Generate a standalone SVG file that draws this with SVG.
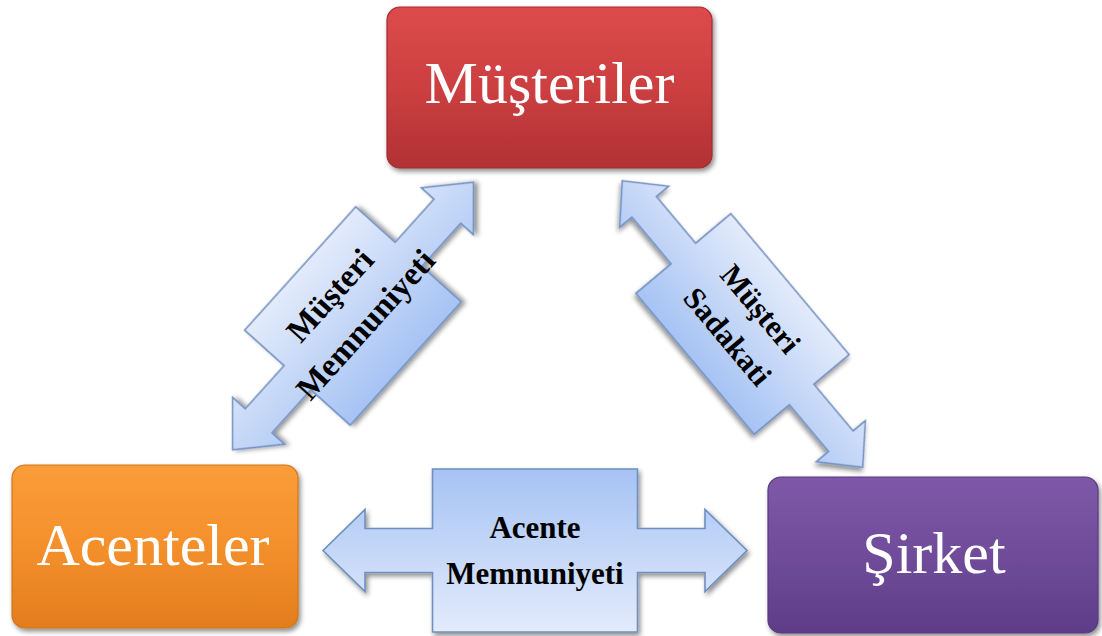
<svg xmlns="http://www.w3.org/2000/svg" width="1102" height="636" viewBox="0 0 1102 636">
  <defs>
    <linearGradient id="gRed" x1="0" y1="0" x2="0" y2="1">
      <stop offset="0" stop-color="#dc4b4c"/>
      <stop offset="0.5" stop-color="#cc3f41"/>
      <stop offset="1" stop-color="#b13134"/>
    </linearGradient>
    <linearGradient id="gOrange" x1="0" y1="0" x2="0" y2="1">
      <stop offset="0" stop-color="#fa9d38"/>
      <stop offset="0.5" stop-color="#f4902c"/>
      <stop offset="1" stop-color="#e27d1e"/>
    </linearGradient>
    <linearGradient id="gPurple" x1="0" y1="0" x2="0" y2="1">
      <stop offset="0" stop-color="#7f58a9"/>
      <stop offset="0.5" stop-color="#704c9a"/>
      <stop offset="1" stop-color="#5d3d88"/>
    </linearGradient>
    <linearGradient id="gBlueDown" x1="0" y1="0" x2="0" y2="1">
      <stop offset="0" stop-color="#a6c3f4"/>
      <stop offset="1" stop-color="#e3ebfb"/>
    </linearGradient>
    <linearGradient id="gBlueUp" x1="0" y1="0" x2="0" y2="1">
      <stop offset="0" stop-color="#e3ebfb"/>
      <stop offset="1" stop-color="#a6c3f4"/>
    </linearGradient>
    <filter id="shadow" x="-10%" y="-10%" width="125%" height="130%">
      <feGaussianBlur in="SourceAlpha" stdDeviation="2.5"/>
      <feOffset dx="2" dy="3" result="b"/>
      <feComponentTransfer><feFuncA type="linear" slope="0.45"/></feComponentTransfer>
      <feMerge><feMergeNode/><feMergeNode in="SourceGraphic"/></feMerge>
    </filter>
  </defs>
  <style>
    .box { stroke-width: 1.2; filter: url(#shadow); }
    .node-label { font-family: "Liberation Serif", "Times New Roman", serif; font-size: 60px; fill: #ffffff; text-anchor: middle; }
    .arrow { stroke: #6f8ec0; stroke-width: 1.6; stroke-linejoin: miter; filter: url(#shadow); }
    .arrow-label { font-family: "Liberation Serif", "Times New Roman", serif; font-size: 31px; font-weight: bold; fill: #000000; text-anchor: middle; }
    .big { font-size: 33px; }
  </style>
  <rect width="1102" height="636" fill="#ffffff"/>

  <g id="connectors">
    <g id="arrow-musteri-memnuniyeti" transform="translate(353,316) rotate(-48)">
      <path class="arrow" fill="url(#gBlueUp)" d="M -180,0 L -141,-35 L -141,-18 L -83,-18 L -83,-71 L 83,-71 L 83,-18 L 141,-18 L 141,-35 L 180,0 L 141,35 L 141,18 L 83,18 L 83,71 L -83,71 L -83,18 L -141,18 L -141,35 Z"/>
      <text class="arrow-label big" x="0" y="-20">Müşteri</text>
      <text class="arrow-label big" x="2" y="26">Memnuniyeti</text>
    </g>
    <g id="arrow-musteri-sadakati" transform="translate(742.5,324) rotate(50)">
      <path class="arrow" fill="url(#gBlueUp)" d="M -187,0 L -153,-32 L -153,-16 L -92,-16 L -92,-62 L 92,-62 L 92,-16 L 153,-16 L 153,-32 L 187,0 L 153,32 L 153,16 L 92,16 L 92,62 L -92,62 L -92,16 L -153,16 L -153,32 Z"/>
      <text class="arrow-label" x="0" y="-13">Müşteri</text>
      <text class="arrow-label" x="0" y="30">Sadakati</text>
    </g>
    <g id="arrow-acente-memnuniyeti" transform="translate(535,550.5)">
      <path class="arrow" fill="url(#gBlueDown)" d="M -212,0 L -170,-41 L -170,-22 L -102.5,-22 L -102.5,-81.5 L 102.5,-81.5 L 102.5,-22 L 170,-22 L 170,-41 L 212,0 L 170,41 L 170,22 L 102.5,22 L 102.5,81.5 L -102.5,81.5 L -102.5,22 L -170,22 L -170,41 Z"/>
      <text class="arrow-label" x="0" y="-13">Acente</text>
      <text class="arrow-label" x="0" y="33">Memnuniyeti</text>
    </g>
  </g>

  <g id="node-musteriler">
    <rect class="box" x="387" y="7" width="325" height="161" rx="13" fill="url(#gRed)" stroke="#a32a2d"/>
    <text class="node-label" x="549.5" y="103">Müşteriler</text>
  </g>
  <g id="node-acenteler">
    <rect class="box" x="12" y="465" width="286" height="163" rx="13" fill="url(#gOrange)" stroke="#d0741c"/>
    <text class="node-label" x="153" y="565">Acenteler</text>
  </g>
  <g id="node-sirket">
    <rect class="box" x="768" y="477" width="330" height="156" rx="13" fill="url(#gPurple)" stroke="#573a80"/>
    <text class="node-label" x="934" y="573">Şirket</text>
  </g>
</svg>
